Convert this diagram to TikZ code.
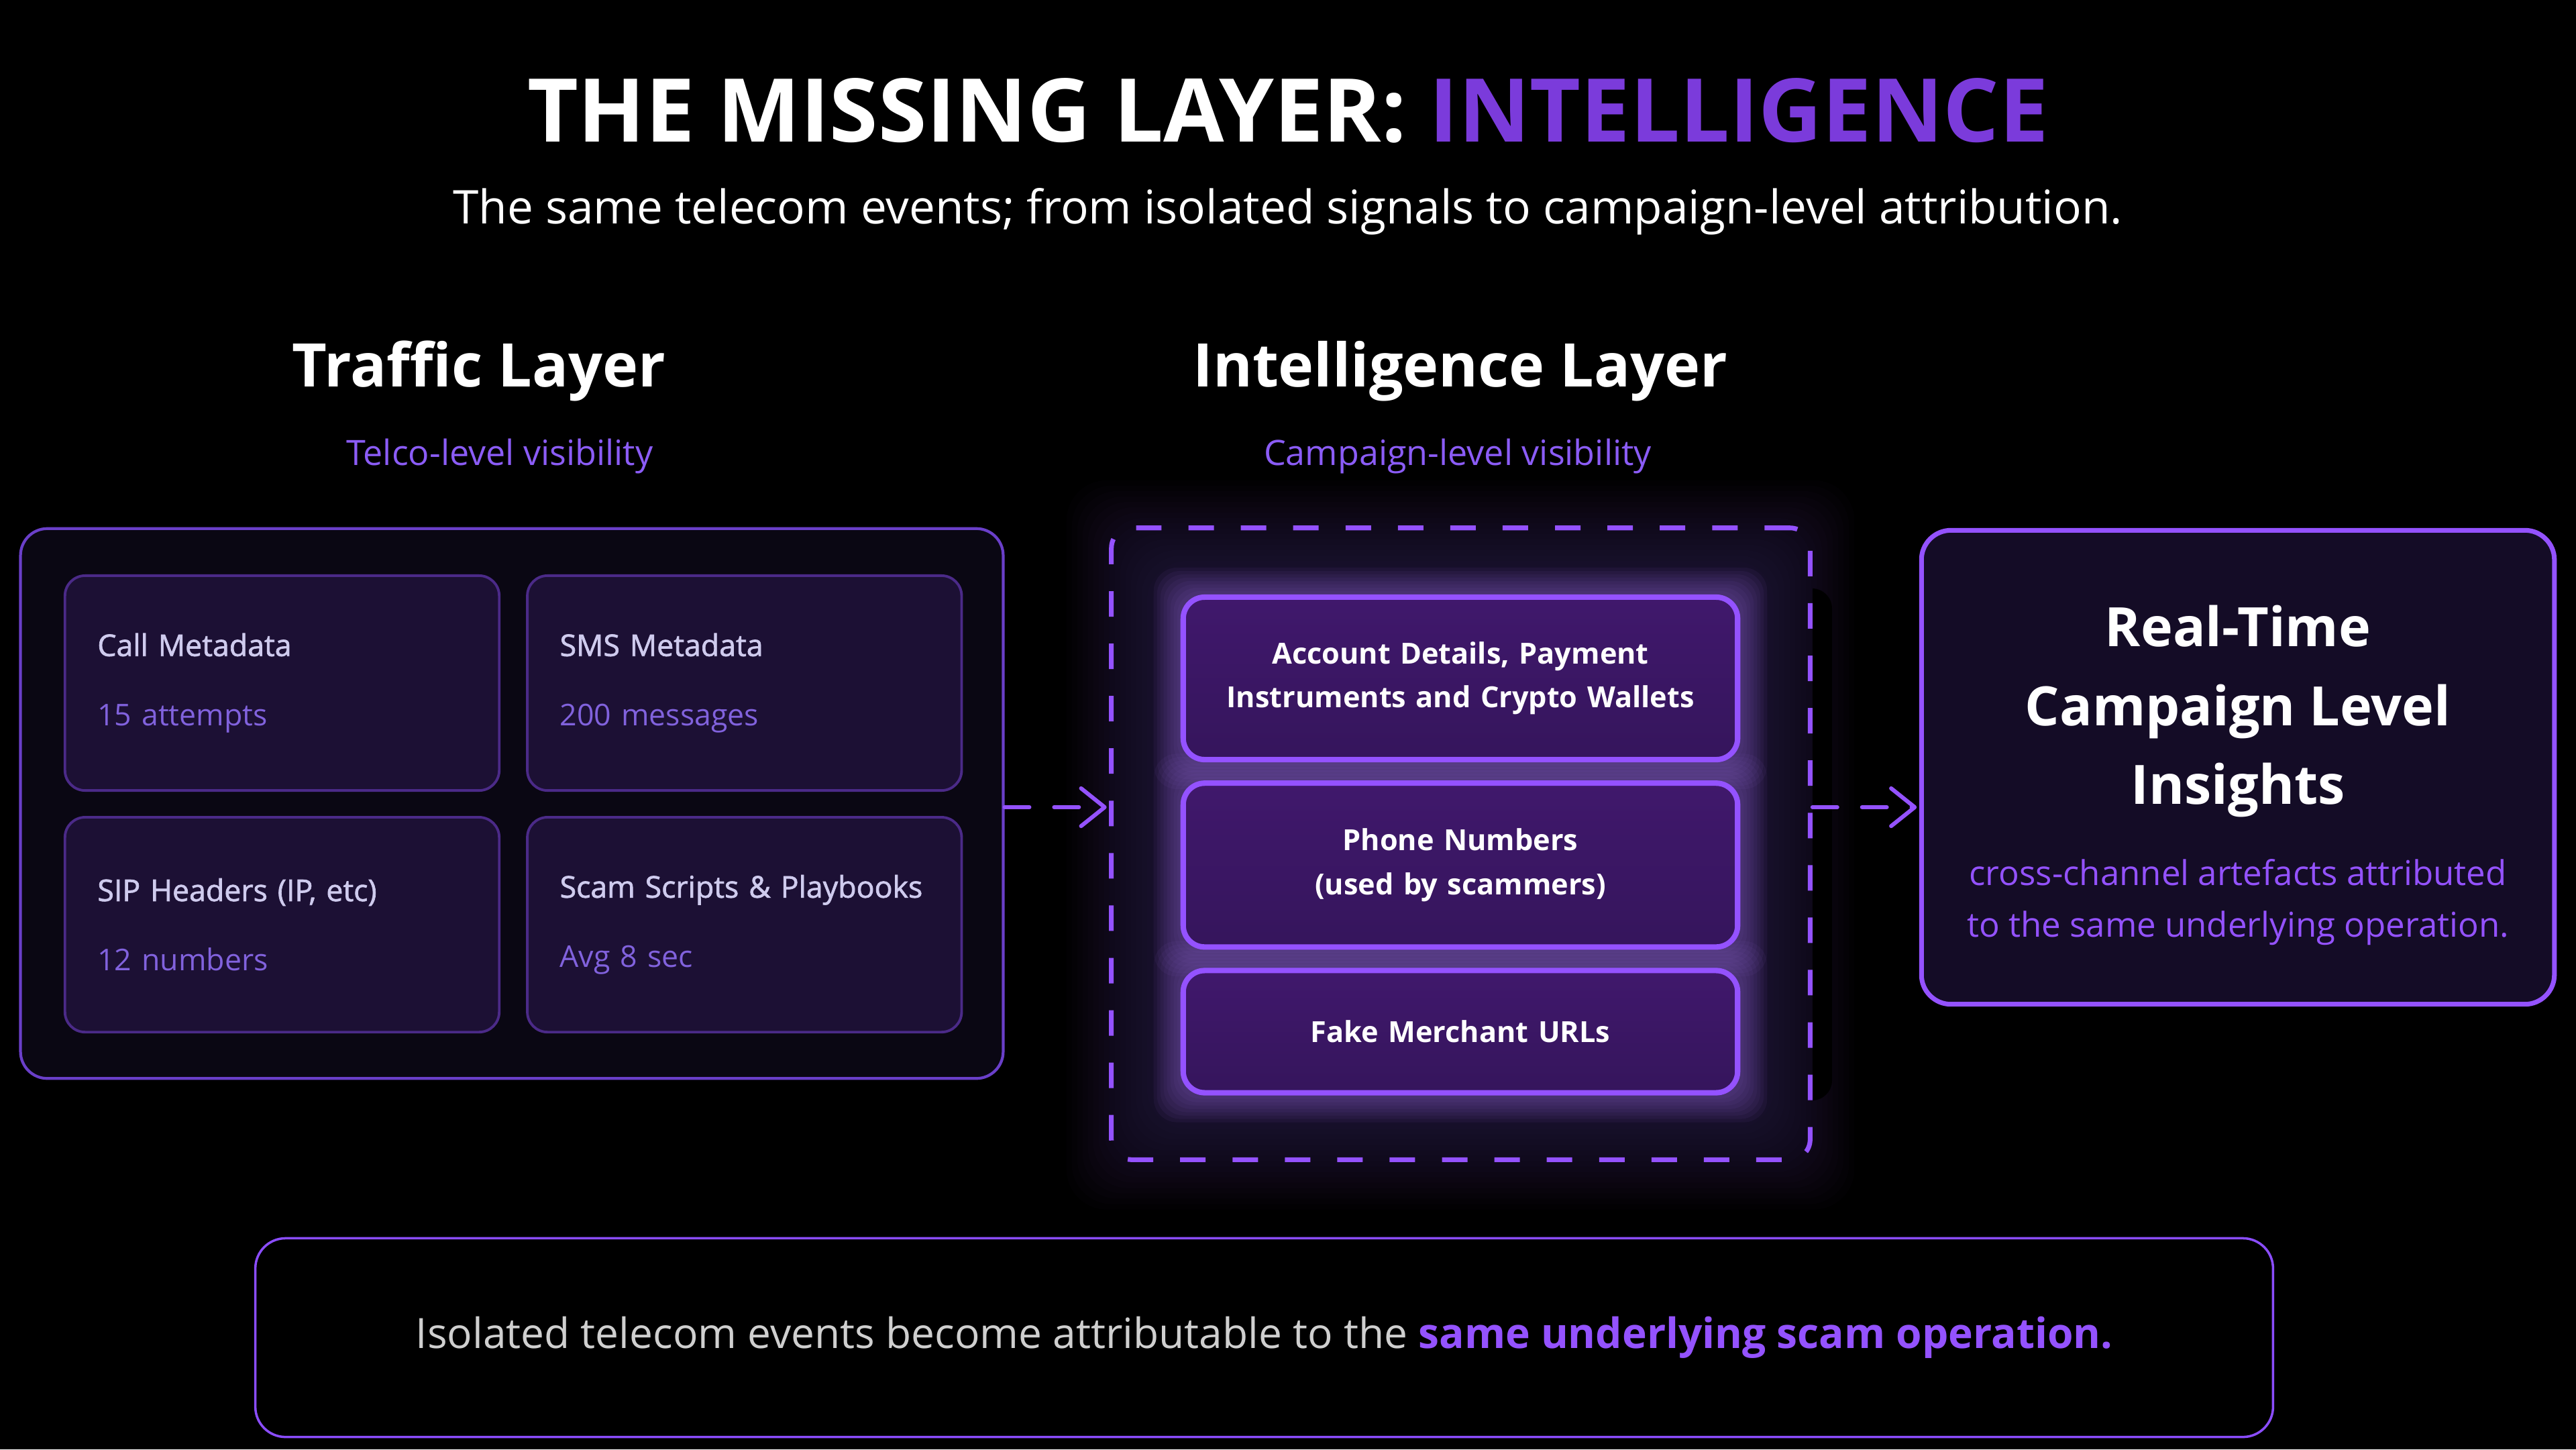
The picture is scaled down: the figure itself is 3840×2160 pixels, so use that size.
\documentclass[tikz,border=0pt]{standalone}
\usepackage{fontspec}
\setmainfont{Open Sans}
\newfontfamily\mediumfont{Open Sans}[FakeBold=1.6]
\usetikzlibrary{arrows.meta,positioning,calc,backgrounds}
\definecolor{titlepurple}{HTML}{7B3BDB}
\definecolor{accent}{HTML}{9452FF}
\definecolor{sublabel}{HTML}{8B5CF6}
\definecolor{stat}{HTML}{8162DD}
\definecolor{cardtext}{HTML}{CFCBEE}
\definecolor{cardfill}{HTML}{1C1034}
\definecolor{cardline}{HTML}{4B2A88}
\definecolor{panelfill}{HTML}{0A0713}
\definecolor{panelline}{HTML}{6A3FC9}
\definecolor{inteltop}{HTML}{40186C}
\definecolor{intelbot}{HTML}{35155C}
\definecolor{insightfill}{HTML}{140C26}
\definecolor{summaryline}{HTML}{8B4DFF}
\definecolor{summarytext}{HTML}{CFCFCF}
\definecolor{glowpurple}{HTML}{4A2E78}
\definecolor{glowlight}{HTML}{8A63C8}
\begin{document}
\begin{tikzpicture}[
  x=0.01cm, y=-0.01cm,
  titletext/.style={text=white, anchor=base, font=\bfseries\fontsize{37.3}{42}\selectfont},
  subtitle/.style={text=white, anchor=base, font=\fontsize{19.7}{22}\selectfont},
  heading/.style={text=white, anchor=base, font=\bfseries\fontsize{25.5}{28}\selectfont},
  sublabel/.style={text=sublabel, anchor=base, font=\fontsize{14.8}{17}\selectfont},
  panel/.style={draw=panelline, line width=1.2pt, fill=panelfill, rounded corners=0.4cm, minimum width=14.64cm, minimum height=8.19cm},
  card/.style={draw=cardline, line width=1.1pt, fill=cardfill, rounded corners=0.3cm, minimum width=6.47cm, minimum height=3.2cm, text width=5.5cm, inner xsep=0.485cm, align=left, text=cardtext, font=\fontsize{12.7}{29.5}\selectfont},
  intelbox/.style={draw=accent, line width=2pt, dash pattern=on 10.8pt off 11.4pt, rounded corners=0.3cm, minimum width=10.41cm, minimum height=9.41cm},
  artefact/.style={draw=accent, line width=2.3pt, top color=inteltop, bottom color=intelbot, rounded corners=0.32cm, minimum width=8.26cm, text width=7.6cm, align=center, text=white, font=\bfseries\fontsize{12.3}{18.5}\selectfont},
  insightbox/.style={draw=accent, line width=2pt, fill=insightfill, rounded corners=0.44cm, minimum width=9.43cm, minimum height=7.06cm},
  insighthead/.style={text=white, align=center, font=\bfseries\fontsize{23}{33.3}\selectfont},
  insightnote/.style={text=accent, align=center, font=\fontsize{14.5}{21.9}\selectfont},
  summary/.style={draw=summaryline, line width=1pt, rounded corners=0.45cm, minimum width=30.06cm, minimum height=2.96cm, text=summarytext, font=\fontsize{17.7}{21}\selectfont},
  flow/.style={draw=accent, line width=1.7pt, dash pattern=on 10.5pt off 10.5pt, line cap=round, shorten >=1pt, -{Straight Barb[length=10pt,width=16pt,round]}},
]
  \useasboundingbox (0,0) rectangle (3840,2160);

  % headings
  \node[titletext] (title) at (1920,211) {THE MISSING LAYER: \textcolor{titlepurple}{INTELLIGENCE}};
  \node[subtitle] (subtitle) at (1920,333) {The same telecom events; from isolated signals to campaign-level attribution.};
  \node[heading] (traffichead) at (714,576) {Traffic Layer};
  \node[heading] (intelhead) at (2177,576) {Intelligence Layer};
  \node[sublabel] (trafficcap) at (745,693) {Telco-level visibility};
  \node[sublabel] (intelcap) at (2173,693) {Campaign-level visibility};

  % traffic layer
  \node[panel] (traffic) at (763,1197.5) {};
  \node[card] (call) at (420.5,1018) {{\mediumfont Call Metadata}\\\textcolor{stat}{15 attempts}};
  \node[card, right=0.38cm of call] (sms) {{\mediumfont SMS Metadata}\\\textcolor{stat}{200 messages}};
  \node[card, below=0.36cm of call] (sip) {{\mediumfont SIP Headers (IP, etc)}\\\textcolor{stat}{12 numbers}};
  \node[card, below=0.36cm of sms] (scripts) {{\mediumfont Scam Scripts \& Playbooks}\\\textcolor{stat}{Avg 8 sec}};

  % intelligence layer
  \node[intelbox] (intel) at (2177.5,1257.5) {};
  \node[artefact, minimum height=2.42cm] (accounts) at (2177,1011) {Account Details, Payment\\Instruments and Crypto Wallets};
  \node[artefact, minimum height=2.44cm, below=0.27cm of accounts] (phones) {Phone Numbers\\(used by scammers)};
  \node[artefact, minimum height=1.82cm, below=0.27cm of phones] (urls) {Fake Merchant URLs};

  % insights
  \node[insightbox] (insight) at (3336,1143.5) {};
  \node[insighthead] (insighthead) at (3336,1060) {Real-Time\\Campaign Level\\Insights};
  \node[insightnote] (insightnote) at (3336,1345) {cross-channel artefacts attributed\\to the same underlying operation.};

  % connectors
  \coordinate (flowline) at (0,1203);
  \draw[flow] (traffic.east |- flowline) -- (intel.west |- flowline);
  \draw[flow] (intel.east |- flowline) -- (insight.west |- flowline);

  % summary
  \node[summary] (summary) at (1884.5,1993.5) {Isolated telecom events become attributable to the \textcolor{accent}{\bfseries same underlying scam operation.}};

  % background and glow
  \begin{scope}[on background layer]
    \fill[black] (0,0) rectangle (3840,2160);
    \foreach \g in {1,...,20}
      \fill[glowpurple, opacity=0.03, rounded corners=0.6cm] ($(accounts.north west)+(-10-\g*8,-10-\g*8)$) rectangle ($(urls.south east)+(10+\g*8,10+\g*8)$);
    \foreach \b in {accounts,phones,urls}
      \foreach \g in {1,...,8}
        \fill[glowlight, opacity=0.07, rounded corners=0.35cm] ($(\b.north west)+(-\g*5,-\g*5)$) rectangle ($(\b.south east)+(\g*5,\g*5)$);
    \begin{scope}
      \clip (2702,0) rectangle (3840,2160);
      \fill[black, rounded corners=0.3cm] (2600,877) rectangle (2731,1640);
    \end{scope}
  \end{scope}
\end{tikzpicture}
\end{document}
